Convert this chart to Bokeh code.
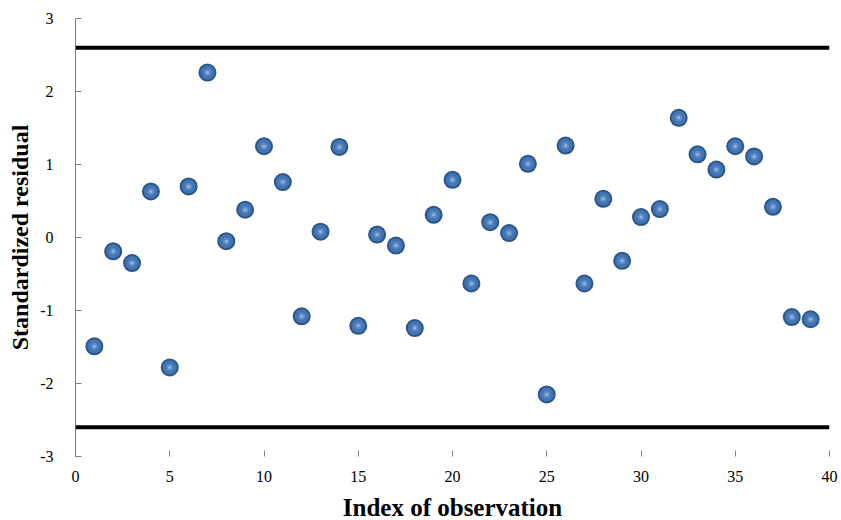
from bokeh.plotting import figure
from bokeh.models import Span, FixedTicker, ColumnDataSource
from bokeh.embed import file_html
from bokeh.resources import INLINE

# Data
index = list(range(1, 40))
residual = [-1.49, -0.19, -0.35, 0.63, -1.78, 0.70, 2.26, -0.05, 0.38, 1.25,
            0.76, -1.08, 0.08, 1.24, -1.21, 0.04, -0.11, -1.24, 0.31, 0.79,
            -0.63, 0.21, 0.06, 1.01, -2.15, 1.26, -0.63, 0.53, -0.32, 0.28,
            0.39, 1.64, 1.14, 0.93, 1.25, 1.11, 0.42, -1.09, -1.12]
limit = 2.6
x_ticks = [0, 5, 10, 15, 20, 25, 30, 35, 40]
y_ticks = [-3, -2, -1, 0, 1, 2, 3]
y_tick_labels = {t: str(t) for t in y_ticks}

src = ColumnDataSource(dict(x=index, y=residual))

p = figure(frame_width=754, frame_height=438, x_range=(0, 40), y_range=(-3, 3),
           output_backend="svg", toolbar_location=None,
           min_border_left=75, min_border_right=10, min_border_top=18, min_border_bottom=60)
p.outline_line_color = None
p.xgrid.grid_line_color = None
p.ygrid.grid_line_color = None
p.background_fill_color = "white"
p.border_fill_color = "white"

for loc in (limit, -limit):
    p.add_layout(Span(location=loc, dimension="width", line_color="black", line_width=4))

# sphere-like markers
p.scatter("x", "y", source=src, size=18, fill_color="#2c5688", line_color=None)
p.scatter("x", "y", source=src, size=14, fill_color="#4275b3", line_color=None)
p.scatter("x", "y", source=src, size=7, fill_color="#5f8cc6", line_color=None)
p.scatter("x", "y", source=src, size=3, fill_color="#95b6e0", line_color=None)

xa = p.xaxis[0]
xa.ticker = FixedTicker(ticks=x_ticks)
xa.axis_line_color = None
xa.major_tick_in = 6
xa.major_tick_out = 0
xa.major_tick_line_color = "#808080"
xa.minor_tick_line_color = None
xa.major_label_text_font = "Liberation Serif"
xa.major_label_text_font_size = "16px"
xa.major_label_text_color = "black"
xa.major_label_standoff = 14
xa.axis_label = "Index of observation"
xa.axis_label_text_font = "Liberation Serif"
xa.axis_label_text_font_style = "bold"
xa.axis_label_text_font_size = "25px"
xa.axis_label_text_color = "black"
xa.axis_label_standoff = 9

ya = p.yaxis[0]
ya.ticker = FixedTicker(ticks=y_ticks)
ya.major_label_overrides = y_tick_labels
ya.axis_line_color = "#808080"
ya.axis_line_width = 1
ya.major_tick_in = 6
ya.major_tick_out = 0
ya.major_tick_line_color = "#808080"
ya.minor_tick_line_color = None
ya.major_label_text_font = "Liberation Serif"
ya.major_label_text_font_size = "16px"
ya.major_label_text_color = "black"
ya.major_label_standoff = 22
ya.axis_label = "Standardized residual"
ya.axis_label_text_font = "Liberation Serif"
ya.axis_label_text_font_style = "bold"
ya.axis_label_text_font_size = "24px"
ya.axis_label_text_color = "black"
ya.axis_label_standoff = 4

open("out.html", "w").write(file_html(p, INLINE))
